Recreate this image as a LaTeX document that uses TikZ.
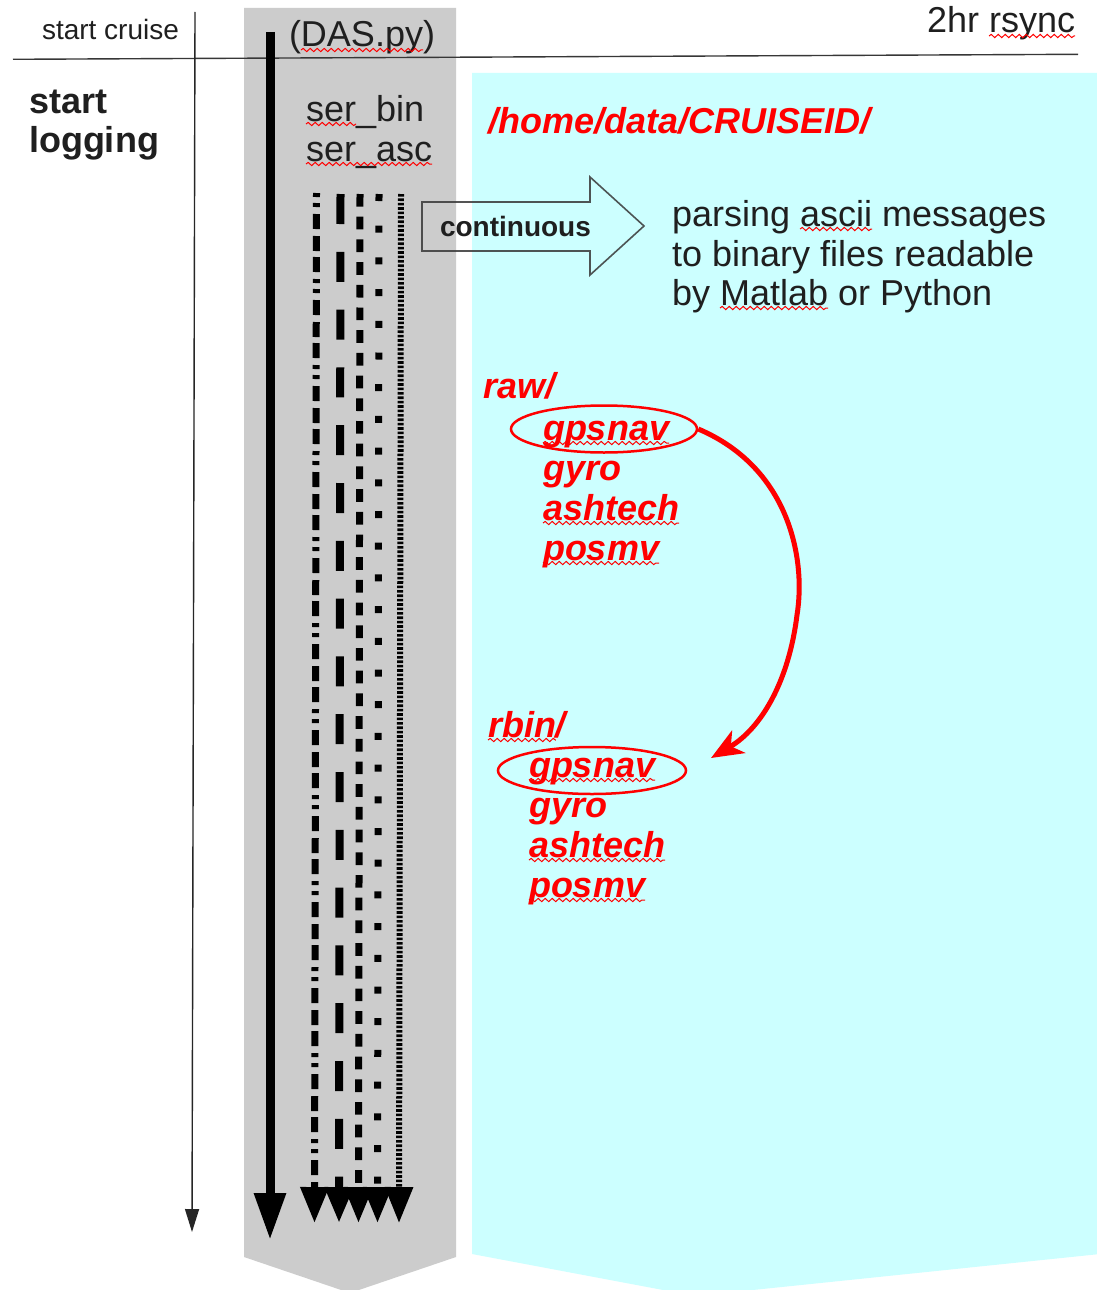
\documentclass[tikz,border=0pt]{standalone}
\usepackage{fontspec}
\setmainfont{Liberation Sans}
\usetikzlibrary{arrows.meta,shapes.geometric,decorations.pathmorphing}

\definecolor{panelgray}{RGB}{204,204,204}
\definecolor{panelcyan}{RGB}{204,255,255}
\definecolor{rulegray}{RGB}{55,55,55}
\definecolor{inkred}{RGB}{255,0,0}

\tikzset{
  lbl/.style={anchor=base west, inner sep=0pt, outer sep=0pt, text=black!88},
  small/.style={font=\fontsize{28}{32}\selectfont},
  normal/.style={font=\fontsize{36}{40}\selectfont},
  heavy/.style={font=\fontsize{36}{40}\selectfont\bfseries},
  redlbl/.style={anchor=base west, inner sep=0pt, outer sep=0pt, text=inkred,
    font=\fontsize{36}{40}\selectfont\bfseries\itshape},
  ring/.style={ellipse, draw=inkred, line width=2.5pt, inner sep=0pt},
  stream/.style={line width=#1, -{Triangle[length=36pt,width=27pt]}},
  wavy/.style={draw=inkred, line width=1pt, decorate,
    decoration={snake, amplitude=1.6pt, segment length=7pt}},
}
% wavy red underline beneath a named word node
\newcommand\squiggle[1]{\draw[wavy] ([yshift=-3pt]#1.base west) -- ([yshift=-3pt]#1.base east);}

\begin{document}
\begin{tikzpicture}[x=1pt,y=-1pt]
\useasboundingbox (0,0) rectangle (1096,1290);
\fill[white] (0,0) rectangle (1096,1290);

% background panels
\fill[panelgray] (244,8) -- (456,8) -- (456,1257) -- (350,1293) -- (244,1257) -- cycle;
\fill[panelcyan] (472,73) -- (1100,73) -- (1100,1254) -- (695,1296) -- (472,1254) -- cycle;

% header rule and timeline
\coordinate (ruleL) at (13,59.3);
\coordinate (ruleR) at (1078,54.3);
\draw[rulegray, line width=1.4pt] (ruleL) -- (ruleR);

\coordinate (timeTop) at (195,12);
\coordinate (timeEnd) at (192,1232);
\draw[black!85, line width=1.4pt, -{Triangle[length=23pt,width=14pt]}] (timeTop) -- (timeEnd);

% logger process arrow
\coordinate (dasTop) at (270,32);
\coordinate (dasEnd) at (270,1240);
\draw[line width=9pt, -{Triangle[length=47pt,width=30pt]}] (dasTop) -- (dasEnd);

% serial data streams
\coordinate (s1a) at (316.5,193); \coordinate (s1b) at (314.5,1223);
\coordinate (s2a) at (340.5,194); \coordinate (s2b) at (339,1223);
\coordinate (s3a) at (360,194);   \coordinate (s3b) at (358.5,1223);
\coordinate (s4a) at (379,194);   \coordinate (s4b) at (377.5,1223);
\coordinate (s5a) at (401,194);   \coordinate (s5b) at (399,1223);
\draw[stream=7pt, dash pattern=on 4pt off 6pt on 4pt off 7pt on 15pt off 7pt on 15pt off 6pt on 15pt off 7pt] (s1a) -- (s1b);
\draw[stream=8pt, dash pattern=on 30pt off 27.8pt] (s2a) -- (s2b);
\draw[stream=7pt, dash pattern=on 12.7pt off 10pt] (s3a) -- (s3b);
\draw[stream=7pt, dash pattern=on 7pt off 24.7pt] (s4a) -- (s4b);
\draw[stream=6pt, dash pattern=on 2.6pt off 1.8pt] (s5a) -- (s5b);

% block arrow "continuous"
\draw[rulegray, opacity=0.85, line width=1.6pt, line join=miter]
  (422,202) -- (590,202) -- (590,177) -- (644,226) -- (590,275) -- (590,251) -- (422,251) -- cycle;
\node[lbl, font=\fontsize{28}{32}\selectfont\bfseries] (cont) at (440,236) {continuous};

% left column texts
\node[lbl, small] (cruise) at (42,40) {start cruise};
\node[lbl, heavy] (start) at (29,113) {start};
\node[lbl, heavy] (logging) at (29,152) {logging};

% top texts
\node[lbl, normal] (dasL) at (289,47) {(};
\node[lbl, normal] (das) at (dasL.base east) {DAS.py};
\node[lbl, normal] (dasR) at (das.base east) {)};
\node[lbl, normal] (rsyncA) at (927,33) {2hr\ \null};
\node[lbl, normal] (rsync) at (rsyncA.base east) {rsync};
\node[lbl, normal] (ser1) at (306,121) {ser};
\node[lbl, normal] (bin) at (ser1.base east) {\_bin};
\node[lbl, normal] (serasc) at (306,161) {ser\_asc};

% description
\node[lbl, normal] (par1a) at (672,226) {parsing\ \null};
\node[lbl, normal] (ascii) at (par1a.base east) {ascii};
\node[lbl, normal] (par1b) at (ascii.base east) {\null\ messages};
\node[lbl, normal] (par2) at (672,266) {to binary files readable};
\node[lbl, normal] (par3a) at (672,305) {by\ \null};
\node[lbl, normal] (matlab) at (par3a.base east) {Matlab};
\node[lbl, normal] (par3b) at (matlab.base east) {\null\ or Python};

% data directories
\node[redlbl] (home) at (488,133) {/home/data/CRUISEID/};

\node[redlbl] (raw) at (483,398) {raw/};
\node[redlbl] (rawgps) at (543,440) {gpsnav};
\node[redlbl] (rawgyro) at (543,480) {gyro};
\node[redlbl] (rawash) at (543,520) {ashtech};
\node[redlbl] (rawpos) at (543,560) {posmv};

\node[redlbl] (rbin) at (488,737) {rbin};
\node[redlbl] (rbinslash) at (rbin.base east) {/};
\node[redlbl] (rbingps) at (529,777) {gpsnav};
\node[redlbl] (rbingyro) at (529,817) {gyro};
\node[redlbl] (rbinash) at (529,857) {ashtech};
\node[redlbl] (rbinpos) at (529,897) {posmv};

% spell-check marks
\foreach \w in {das, rsync, ser1, serasc, ascii, matlab, rawgps, rawash, rawpos,
                rbin, rbingps, rbinash, rbinpos}
  {\squiggle{\w}}

% highlight rings and conversion arrow
\node[ring, minimum width=186pt, minimum height=47pt] (rawring) at (604,429) {};
\node[ring, minimum width=188pt, minimum height=47pt] (rbinring) at (592,770.5) {};
\coordinate (convTip) at (711,758);
\draw[inkred, line width=5pt, -{Stealth[length=32pt,width=26pt,inset=9pt]}]
  (rawring.east) .. controls (790,468) and (806,560) .. (797,615)
  .. controls (789,680) and (762,728) .. (convTip);
\end{tikzpicture}
\end{document}
